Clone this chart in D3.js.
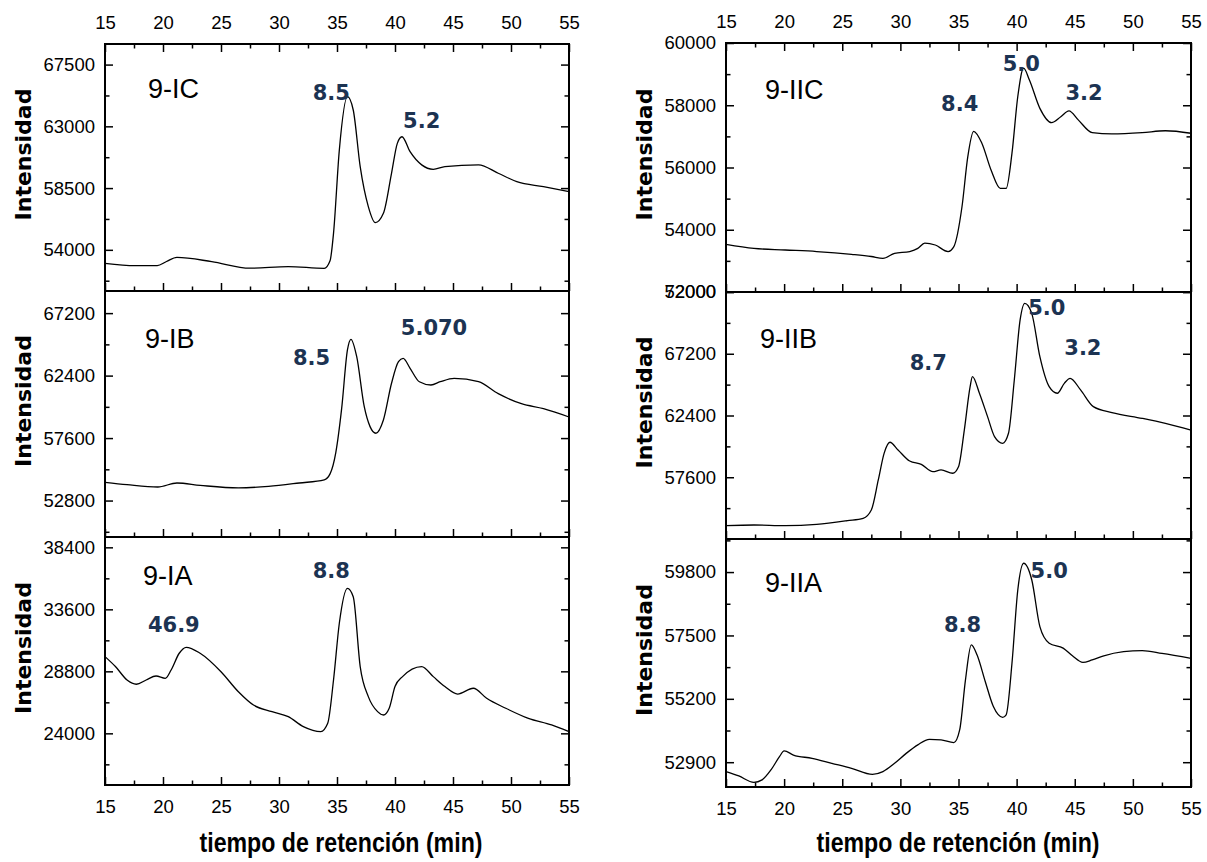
<!DOCTYPE html>
<html>
<head>
<meta charset="utf-8">
<script src="https://cdn.jsdelivr.net/npm/d3@7"></script>
<style>
   body { margin: 0; background: #fff; }
</style>
</head>
<body>
<svg id="chart" width="1207" height="862"></svg>
<script>
// Eje x común (tiempo de retención, min)
const xTicks = [15, 20, 25, 30, 35, 40, 45, 50, 55];
const xMinorTicks = [17.5, 22.5, 27.5, 32.5, 37.5, 42.5, 47.5, 52.5];

// 9-IC
const tiempoIC = [15, 17.6, 19.5, 20.3, 21.2, 24.2, 27.5, 30.8, 33.9, 34.4, 34.7, 35.2, 35.9, 36.4, 37.0, 37.7, 38.3, 39.0, 39.7, 40.2, 40.6, 41.3, 42.3, 43.3, 44.3, 47.2, 48.9, 50.5, 52.8, 55];
const intIC = [53020, 52850, 52850, 53150, 53450, 53140, 52660, 52780, 52650, 53200, 55200, 61270, 65160, 64190, 60060, 57150, 55980, 56660, 59580, 61760, 62240, 61150, 60190, 59870, 60060, 60190, 59580, 58970, 58600, 58240];
const ticksIC = [54000, 58500, 63000, 67500];
const minorIC = [51750, 56250, 60750, 65250];
const picosIC = [{ t: 32.9, v: 64900, txt: '8.5' }, { t: 40.7, v: 62900, txt: '5.2' }];

// 9-IB
const tiempoIB = [15, 16.9, 19.55, 21.2, 23.2, 26.5, 29.1, 31.75, 33.9, 34.4, 34.9, 35.4, 35.9, 36.2, 36.7, 37.35, 37.85, 38.35, 39.0, 39.7, 40.3, 40.7, 41.3, 42.1, 43.1, 43.9, 45.1, 47.2, 48.9, 50.9, 52.8, 55];
const intIB = [54200, 54020, 53840, 54150, 53970, 53770, 53890, 54150, 54390, 54850, 56510, 59860, 64370, 65190, 63850, 60010, 58480, 57970, 58990, 61810, 63470, 63720, 62960, 61930, 61680, 61930, 62190, 61930, 61010, 60240, 59860, 59220];
const ticksIB = [52800, 57600, 62400, 67200];
const minorIB = [50400, 55200, 60000, 64800];
const picosIB = [{ t: 31.2, v: 63215, txt: '8.5' }, { t: 40.5, v: 65520, txt: '5.070' }];

// 9-IA
const tiempoIA = [15, 15.9, 16.9, 17.7, 18.55, 19.4, 20.2, 20.7, 21.4, 22.0, 23.2, 25.0, 26.5, 27.8, 29.4, 30.8, 32.1, 33.6, 34.2, 34.7, 35.2, 35.9, 36.4, 37.0, 37.7, 38.5, 39.0, 39.5, 40.0, 40.65, 42.3, 43.3, 44.3, 45.4, 46.75, 47.9, 49.55, 51.5, 53.5, 55];
const intIA = [29940, 29170, 28130, 27800, 28130, 28440, 28260, 28900, 30200, 30660, 30200, 28770, 27220, 26190, 25680, 25290, 24520, 24130, 24780, 28130, 32520, 35230, 34580, 29170, 26840, 25680, 25420, 25940, 27620, 28390, 29170, 28390, 27620, 27040, 27490, 26710, 25940, 25160, 24650, 24130];
const ticksIA = [24000, 28800, 33600, 38400];
const minorIA = [21600, 26400, 31200, 36000];
const picosIA = [{ t: 32.9, v: 36030, txt: '8.8' }, { t: 18.7, v: 31845, txt: '46.9' }];

// 9-IIC
const tiempoIIC = [15, 17.4, 20.1, 22.8, 25.8, 27.5, 28.5, 29.5, 30.8, 31.5, 32.1, 33.0, 34.1, 34.6, 35.3, 35.8, 36.3, 37.0, 37.8, 38.6, 39.1, 39.6, 40.1, 40.6, 41.1, 42.0, 43.0, 43.8, 44.5, 45.3, 46.5, 48.2, 50.8, 52.8, 55];
const intIIC = [53530, 53400, 53350, 53300, 53210, 53140, 53080, 53240, 53300, 53400, 53570, 53510, 53300, 53460, 54740, 56350, 57160, 56790, 55920, 55330, 55330, 56460, 58280, 59190, 58810, 57900, 57440, 57630, 57820, 57530, 57120, 57080, 57120, 57180, 57100];
const ticksIIC = [52000, 54000, 56000, 58000, 60000];
const minorIIC = [53000, 55000, 57000, 59000];
const picosIIC = [{ t: 33.5, v: 57815, txt: '8.4' }, { t: 38.8, v: 59100, txt: '5.0' }, { t: 44.2, v: 58170, txt: '3.2' }];

// 9-IIB
const tiempoIIB = [15, 17.4, 20.1, 22.8, 25.45, 26.8, 27.5, 28.1, 28.6, 29.1, 29.8, 30.8, 31.8, 32.8, 33.5, 34.5, 35.0, 35.5, 36.0, 36.2, 36.8, 37.5, 38.1, 38.8, 39.3, 39.8, 40.3, 40.7, 41.3, 42.0, 42.8, 43.5, 44.1, 44.6, 45.5, 46.6, 48.2, 50.8, 52.8, 55];
const intIIB = [53840, 53890, 53840, 53940, 54230, 54410, 55050, 57390, 59460, 60320, 59720, 58860, 58600, 58030, 58170, 57910, 58420, 61270, 64640, 65420, 64130, 62310, 60760, 60240, 61020, 65160, 69830, 71120, 70340, 66970, 64640, 64130, 64900, 65290, 64390, 63090, 62630, 62180, 61790, 61270];
const ticksIIB = [57600, 62400, 67200, 72000];
const minorIIB = [55200, 60000, 64800, 69600];
const picosIIB = [{ t: 30.8, v: 65940, txt: '8.7' }, { t: 41.0, v: 70210, txt: '5.0' }, { t: 44.1, v: 67100, txt: '3.2' }];

// 9-IIA
const tiempoIIA = [15, 16.1, 17.4, 18.1, 18.9, 19.6, 20.0, 20.8, 22.4, 24.1, 25.8, 27.6, 28.5, 29.5, 30.5, 31.5, 32.5, 33.5, 34.6, 35.1, 35.6, 36.1, 36.6, 37.3, 38.0, 38.8, 39.1, 39.6, 40.1, 40.6, 41.3, 42.0, 42.8, 44.0, 44.8, 45.7, 46.5, 47.5, 49.2, 50.8, 52.5, 55];
const intIIA = [52560, 52400, 52170, 52260, 52640, 53100, 53310, 53160, 53040, 52860, 52680, 52460, 52560, 52860, 53220, 53530, 53730, 53710, 53610, 54070, 55890, 57160, 56790, 55830, 54920, 54530, 54620, 56490, 59150, 60120, 59520, 57820, 57220, 57040, 56760, 56520, 56610, 56760, 56910, 56950, 56850, 56670];
const ticksIIA = [52900, 55200, 57500, 59800];
const minorIIA = [54050, 56350, 58650, 60950];
const picosIIA = [{ t: 33.75, v: 57625, txt: '8.8' }, { t: 41.2, v: 59585, txt: '5.0' }];

const svg = d3.select('#chart');
const fuente = '"Liberation Sans", Arial, sans-serif';
const fuenteBold = '"DejaVu Sans", Verdana, sans-serif';

function estiloEje(g) {
   g.select('.domain').remove();
   g.selectAll('line').attr('stroke', '#000').attr('stroke-width', 1.5);
   g.selectAll('text')
      .style('font-family', fuente)
      .style('font-size', '18.5px')
      .style('fill', '#000');
}

function drawPanel(p) {
   var x = d3.scaleLinear().domain([15, 55]).range([p.left, p.right]);
   var y = d3.scaleLinear().domain(p.domain).range([p.bottom, p.top]);
   var g = svg.append('g');
   var fmt = d3.format('d');

   // eje inferior (ticks hacia dentro)
   g.append('g').attr('transform', `translate(0,${p.bottom})`)
      .call(d3.axisBottom(x).tickValues(xTicks).tickSize(-8).tickPadding(15)
         .tickFormat(p.bottomLabels ? fmt : () => ''))
      .call(estiloEje);
   g.append('g').attr('transform', `translate(0,${p.bottom})`)
      .call(d3.axisBottom(x).tickValues(xMinorTicks).tickSize(-4.5).tickFormat(() => ''))
      .call(estiloEje);

   // eje superior solo en la fila de arriba
   if (p.topLabels) {
      g.append('g').attr('transform', `translate(0,${p.top})`)
         .call(d3.axisTop(x).tickValues(xTicks).tickSize(-8).tickPadding(15).tickFormat(fmt))
         .call(estiloEje);
      g.append('g').attr('transform', `translate(0,${p.top})`)
         .call(d3.axisTop(x).tickValues(xMinorTicks).tickSize(-4.5).tickFormat(() => ''))
         .call(estiloEje);
   }

   // eje y izquierdo y derecho
   g.append('g').attr('transform', `translate(${p.left},0)`)
      .call(d3.axisLeft(y).tickValues(p.ticks).tickSize(-8).tickPadding(10).tickFormat(fmt))
      .call(estiloEje);
   g.append('g').attr('transform', `translate(${p.left},0)`)
      .call(d3.axisLeft(y).tickValues(p.minor).tickSize(-4.5).tickFormat(() => ''))
      .call(estiloEje);
   g.append('g').attr('transform', `translate(${p.right},0)`)
      .call(d3.axisRight(y).tickValues(p.ticks).tickSize(-8).tickFormat(() => ''))
      .call(estiloEje);
   g.append('g').attr('transform', `translate(${p.right},0)`)
      .call(d3.axisRight(y).tickValues(p.minor).tickSize(-4.5).tickFormat(() => ''))
      .call(estiloEje);

   // marco
   g.append('rect')
      .attr('x', p.left).attr('y', p.top)
      .attr('width', p.right - p.left).attr('height', p.bottom - p.top)
      .attr('fill', 'none').attr('stroke', '#000').attr('stroke-width', 2);

   // curva
   var line = d3.line()
      .x(function (d, i) { return x(p.tiempo[i]); })
      .y(function (d) { return y(d); })
      .curve(d3.curveMonotoneX);
   g.append('path')
      .attr('d', line(p.valores))
      .attr('fill', 'none')
      .attr('stroke', '#000')
      .attr('stroke-width', 1.3);

   // nombre de la muestra
   g.append('text')
      .attr('x', p.left + p.nameDx).attr('y', p.top + p.nameDy)
      .style('font-family', fuente)
      .style('font-size', '27px')
      .style('fill', '#000')
      .text(p.name);

   // etiquetas de los picos
   p.picos.forEach(function (pk) {
      g.append('text')
         .attr('x', x(pk.t)).attr('y', y(pk.v))
         .style('font-family', fuenteBold)
         .style('font-weight', 'bold')
         .style('font-size', '21px')
         .style('fill', '#1c3352')
         .text(pk.txt);
   });

   // titulo eje y
   var cy = (p.top + p.bottom) / 2 - 13;
   g.append('text')
      .attr('transform', `translate(${p.labelX},${cy}) rotate(-90)`)
      .attr('text-anchor', 'middle')
      .style('font-family', fuenteBold)
      .style('font-weight', 'bold')
      .style('font-size', '22px')
      .style('fill', '#000')
      .text('Intensidad');
}

const izq = { left: 105, right: 569, labelX: 31 };
const der = { left: 726, right: 1191, labelX: 652 };

drawPanel(Object.assign({}, izq, { top: 44, bottom: 291, domain: [51000, 69000], tiempo: tiempoIC, valores: intIC, ticks: ticksIC, minor: minorIC, picos: picosIC, name: '9-IC', nameDx: 43, nameDy: 54, topLabels: true, bottomLabels: false }));
drawPanel(Object.assign({}, izq, { top: 291, bottom: 537, domain: [50000, 68900], tiempo: tiempoIB, valores: intIB, ticks: ticksIB, minor: minorIB, picos: picosIB, name: '9-IB', nameDx: 40, nameDy: 57, topLabels: false, bottomLabels: false }));
drawPanel(Object.assign({}, izq, { top: 537, bottom: 785, domain: [20000, 39200], tiempo: tiempoIA, valores: intIA, ticks: ticksIA, minor: minorIA, picos: picosIA, name: '9-IA', nameDx: 38, nameDy: 48, topLabels: false, bottomLabels: true }));

drawPanel(Object.assign({}, der, { top: 43, bottom: 292, domain: [52000, 60000], tiempo: tiempoIIC, valores: intIIC, ticks: ticksIIC, minor: minorIIC, picos: picosIIC, name: '9-IIC', nameDx: 39, nameDy: 56, topLabels: true, bottomLabels: false }));
drawPanel(Object.assign({}, der, { top: 292, bottom: 539, domain: [52800, 72000], tiempo: tiempoIIB, valores: intIIB, ticks: ticksIIB, minor: minorIIB, picos: picosIIB, name: '9-IIB', nameDx: 34, nameDy: 56, topLabels: false, bottomLabels: false }));
drawPanel(Object.assign({}, der, { top: 539, bottom: 787, domain: [52000, 61000], tiempo: tiempoIIA, valores: intIIA, ticks: ticksIIA, minor: minorIIA, picos: picosIIA, name: '9-IIA', nameDx: 39, nameDy: 53, topLabels: false, bottomLabels: true }));

// titulos del eje x
[341, 958].forEach(function (cx) {
   svg.append('text')
      .attr('x', cx).attr('y', 852)
      .attr('text-anchor', 'middle')
      .attr('textLength', 283)
      .attr('lengthAdjust', 'spacingAndGlyphs')
      .style('font-family', '"Liberation Sans Narrow", "Liberation Sans", Arial, sans-serif')
      .style('font-weight', 'bold')
      .style('font-size', '27px')
      .style('fill', '#000')
      .text('tiempo de retención (min)');
});
</script>
</body>
</html>
